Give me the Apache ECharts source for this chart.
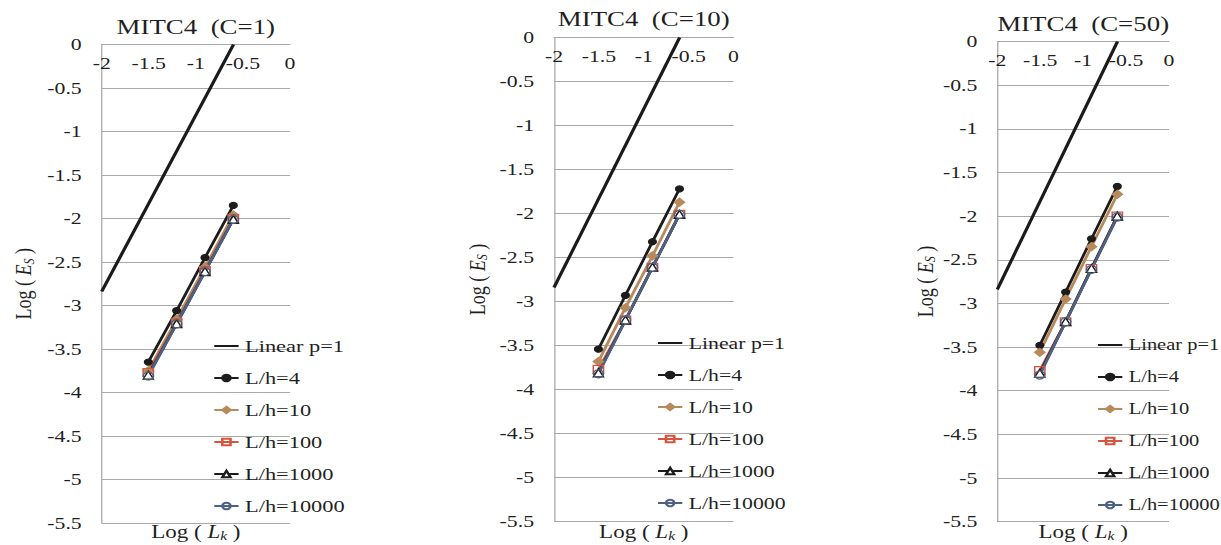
<!DOCTYPE html>
<html>
<head>
<meta charset="utf-8">
<script src="https://cdn.jsdelivr.net/npm/echarts@6/dist/echarts.min.js"></script>
<style>
  html, body { margin: 0; padding: 0; background: #fff; }
  /* the source picture is stretched sideways, so the chart is drawn narrow and scaled */
  #chart { width: 954px; height: 545px; transform: scaleX(1.28); transform-origin: 0 0; }
</style>
</head>
<body>
<div id="chart"></div>
<script>
  // x = log of element size (1/4, 1/8, 1/16, 1/32)
  const logLk = [-1.505, -1.204, -0.903, -0.602];

  // reference slope line
  const linearX = [-2.0, -0.6];
  const linearY = [-2.84, 0];

  const seriesNames = ['Linear p=1', 'L/h=4', 'L/h=10', 'L/h=100', 'L/h=1000', 'L/h=10000'];
  const xTicks = [-2, -1.5, -1, -0.5, 0];

  // C=1
  const c1Lh4 = [-3.65, -3.06, -2.45, -1.85];
  const c1Lh10 = [-3.75, -3.16, -2.56, -1.96];
  const c1Lh100 = [-3.77, -3.20, -2.60, -2.00];
  const c1Lh1000 = [-3.80, -3.21, -2.61, -2.01];
  const c1Lh10000 = [-3.81, -3.21, -2.61, -2.01];

  // C=10
  const c10Lh4 = [-3.54, -2.93, -2.32, -1.72];
  const c10Lh10 = [-3.68, -3.07, -2.48, -1.87];
  const c10Lh100 = [-3.77, -3.21, -2.61, -2.01];
  const c10Lh1000 = [-3.81, -3.21, -2.61, -2.01];
  const c10Lh10000 = [-3.82, -3.21, -2.61, -2.01];

  // C=50
  const c50Lh4 = [-3.48, -2.87, -2.26, -1.66];
  const c50Lh10 = [-3.56, -2.95, -2.35, -1.75];
  const c50Lh100 = [-3.77, -3.21, -2.60, -2.00];
  const c50Lh1000 = [-3.80, -3.21, -2.60, -2.00];
  const c50Lh10000 = [-3.82, -3.21, -2.61, -2.01];

  const S = 1.28; // horizontal stretch
  const font = 'Liberation Serif, Times New Roman, serif';
  const textColor = '#1f1f1f';
  const gridColor = '#a9a9a9';

  // layout in picture pixels (x is divided by S later)
  const panels = [
    { title: 'MITC4\u2002(C=1)', left: 101.7, right: 290, top: 44.5, bottom: 523, titleY: 27, nameGap: 51,
      legendLeft: 213, legendTop: 336, legendFont: 17.5, data: [c1Lh4, c1Lh10, c1Lh100, c1Lh1000, c1Lh10000] },
    { title: 'MITC4\u2002(C=10)', left: 554, right: 733.5, top: 37.5, bottom: 521.7, titleY: 19, nameGap: 50,
      legendLeft: 656.7, legendTop: 333, legendFont: 17, data: [c10Lh4, c10Lh10, c10Lh100, c10Lh1000, c10Lh10000] },
    { title: 'MITC4\u2002(C=50)', left: 997.3, right: 1169, top: 41.5, bottom: 521.7, titleY: 23.6, nameGap: 44,
      legendLeft: 1096.7, legendTop: 335, legendFont: 16, data: [c50Lh4, c50Lh10, c50Lh100, c50Lh1000, c50Lh10000] }
  ];

  const styles = [
    { color: '#1c1c1c', symbol: 'circle', size: 6, fill: '#1c1c1c' },
    { color: '#b8895b', symbol: 'diamond', size: 8, fill: '#b8895b' },
    { color: '#d5553f', symbol: 'rect', size: 8, fill: 'rgba(255,255,255,0)' },
    { color: '#1c1c1c', symbol: 'triangle', size: 8, fill: '#ffffff' },
    { color: '#4d6184', symbol: 'circle', size: 8, fill: 'rgba(255,255,255,0)' }
  ];

  const nameRich = {
    a: { fontFamily: font, fontSize: 18, fontWeight: 'normal', color: textColor, lineHeight: 20 },
    i: { fontFamily: font, fontSize: 18, fontWeight: 'normal', color: textColor, fontStyle: 'italic', lineHeight: 20 },
    s: { fontFamily: font, fontSize: 12, fontWeight: 'normal', color: textColor, fontStyle: 'italic',
         verticalAlign: 'bottom', lineHeight: 13 }
  };

  const pairs = (xs, ys) => xs.map((x, k) => [x, ys[k]]);

  const option = {
    animation: false,
    backgroundColor: '#fff',
    textStyle: { fontFamily: font },
    title: [],
    grid: [],
    xAxis: [],
    yAxis: [],
    legend: [],
    series: []
  };

  panels.forEach((p, i) => {
    const cx = (p.left + p.right) / 2 / S;
    option.title.push({
      text: p.title, left: cx, top: p.titleY - 12, textAlign: 'center', padding: 0,
      textStyle: { fontFamily: font, fontSize: 21, fontWeight: 'normal', color: textColor, lineHeight: 24 }
    });
    option.title.push({
      text: '{a|Log ( }{i|L}{s|k}{a| )}', left: cx, top: 522, textAlign: 'center', padding: 0,
      textStyle: { fontWeight: 'normal', rich: nameRich }
    });
    option.grid.push({
      left: p.left / S, top: p.top, width: (p.right - p.left) / S, height: p.bottom - p.top,
      containLabel: false, outerBoundsMode: 'none'
    });
    option.xAxis.push({
      type: 'value', gridIndex: i, min: -2, max: 0, interval: 0.5, position: 'top',
      axisLine: { show: true, onZero: false, lineStyle: { color: gridColor, width: 1 } },
      axisTick: { show: false },
      splitLine: { show: false },
      axisLabel: { inside: true, margin: 10, fontFamily: font, fontSize: 17, color: textColor,
        customValues: xTicks }
    });
    option.yAxis.push({
      type: 'value', gridIndex: i, min: -5.5, max: 0, interval: 0.5,
      axisLine: { show: true, onZero: false, lineStyle: { color: gridColor, width: 1 } },
      axisTick: { show: false },
      splitLine: { show: true, lineStyle: { color: gridColor, width: 1 } },
      axisLabel: { margin: 15.6, fontFamily: font, fontSize: 17, color: textColor },
      name: '{a|Log ( }{i|E}{s|S}{a| )}', nameLocation: 'middle', nameRotate: 90, nameGap: p.nameGap,
      nameTextStyle: { fontWeight: 'normal', rich: nameRich }
    });
    option.legend.push({
      orient: 'vertical', left: p.legendLeft / S, top: p.legendTop, padding: 0,
      itemWidth: 19, itemHeight: 8, itemGap: 12,
      textStyle: { fontFamily: font, fontSize: p.legendFont, color: textColor, lineHeight: 20 },
      data: seriesNames.map((n, k) => k === 0 ? { name: n, itemStyle: { opacity: 0 } } : n)
    });

    option.series.push({
      name: seriesNames[0], type: 'line', xAxisIndex: i, yAxisIndex: i,
      data: pairs(linearX, linearY), symbol: 'none', showSymbol: false,
      lineStyle: { color: '#1a1a1a', width: 2.6 }, itemStyle: { color: '#1a1a1a' }
    });
    p.data.forEach((ys, k) => {
      const st = styles[k];
      option.series.push({
        name: seriesNames[k + 1], type: 'line', xAxisIndex: i, yAxisIndex: i,
        data: pairs(logLk, ys), symbol: st.symbol, symbolSize: st.size,
        lineStyle: { color: st.color, width: 2.3 },
        itemStyle: { color: st.fill, borderColor: st.color, borderWidth: 1.2 }
      });
    });
  });

  const chart = echarts.init(document.getElementById('chart'), null, { renderer: 'svg' });
  chart.setOption(option);
</script>
</body>
</html>
